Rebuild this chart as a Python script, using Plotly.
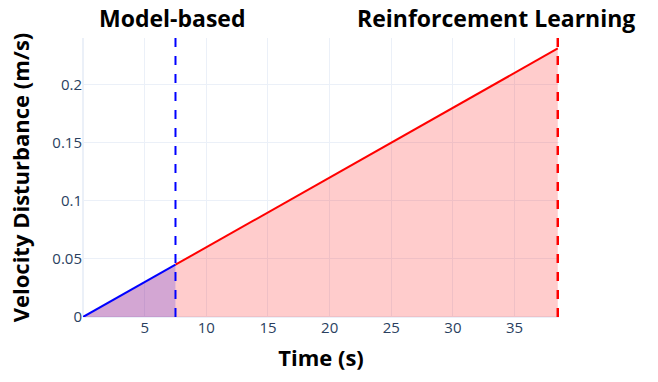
import plotly.graph_objects as go

# Velocity disturbance over time for the two control phases
time_model = [0, 7.5]
vel_model = [0, 0.045]
time_rl = [7.5, 38.5]
vel_rl = [0.045, 0.231]

switch_time = 7.5
end_time = 38.5

x_ticks = [5, 10, 15, 20, 25, 30, 35]
y_ticks = [0, 0.05, 0.1, 0.15, 0.2]
y_tick_text = ["0", "0.05", "0.1", "0.15", "0.2"]

fig = go.Figure()

fig.add_trace(go.Scatter(
    x=time_rl, y=vel_rl, mode="lines",
    line=dict(color="red", width=2),
    fill="tozeroy", fillcolor="rgba(255,0,0,0.2)",
    showlegend=False,
))
fig.add_trace(go.Scatter(
    x=time_model, y=vel_model, mode="lines",
    line=dict(color="blue", width=2),
    fill="tozeroy", fillcolor="rgba(128,0,128,0.35)",
    showlegend=False,
))

fig.add_vline(x=switch_time, line=dict(color="blue", width=2, dash="dash"))
fig.add_vline(x=end_time, line=dict(color="red", width=2.5, dash="dash"))

label_font = dict(family="Open Sans", size=23, color="black", weight="bold")
axis_title_font = dict(family="Open Sans", size=22, color="black", weight="bold")

fig.add_annotation(text="Model-based", xref="paper", yref="paper",
                   x=0.187, y=1.073, showarrow=False,
                   xanchor="center", yanchor="middle", font=label_font)
fig.add_annotation(text="Reinforcement Learning", xref="paper", yref="paper",
                   x=0.868, y=1.073, showarrow=False,
                   xanchor="center", yanchor="middle", font=label_font)

fig.update_layout(
    template="plotly_white",
    width=658, height=382,
    margin=dict(l=83, r=99, t=38, b=65),
    font=dict(family="Open Sans", size=15, color="#2a3f5f"),
    xaxis=dict(
        range=[0, 38.6], tickvals=x_ticks,
        title=dict(text="Time (s)", font=axis_title_font, standoff=14),
        tickfont=dict(size=15),
    ),
    yaxis=dict(
        range=[0, 0.24], tickvals=y_ticks, ticktext=y_tick_text,
        title=dict(text="Velocity Disturbance (m/s)", font=axis_title_font, standoff=16),
        tickfont=dict(size=15),
    ),
)

fig.write_html("out.html")
